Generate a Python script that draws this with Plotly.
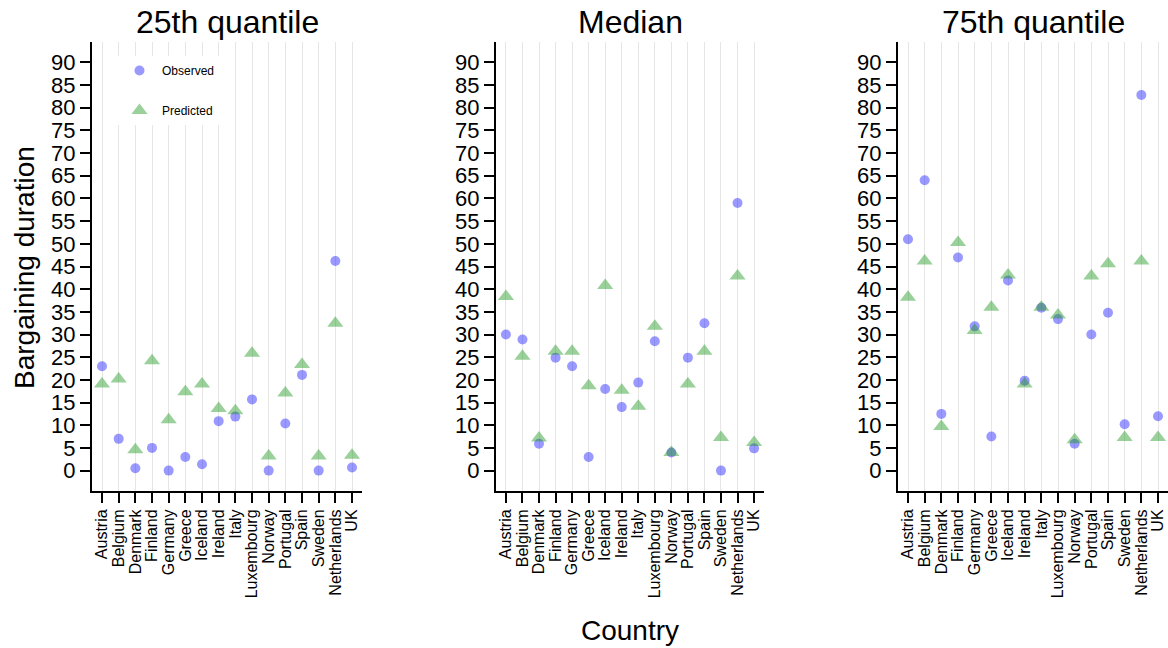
import plotly.graph_objects as go

countries = ["Austria", "Belgium", "Denmark", "Finland", "Germany", "Greece",
             "Iceland", "Ireland", "Italy", "Luxembourg", "Norway", "Portugal",
             "Spain", "Sweden", "Netherlands", "UK"]

panel_titles = ["25th quantile", "Median", "75th quantile"]

obs_q25 = [23.0, 7.0, 0.5, 5.0, 0.0, 3.0, 1.4, 10.9, 11.9, 15.7, 0.0, 10.4, 21.1, 0.0, 46.2, 0.7]
pred_q25 = [19.1, 20.2, 4.6, 24.2, 11.2, 17.4, 19.1, 13.7, 13.2, 25.9, 3.2, 17.1, 23.4, 3.2, 32.5, 3.4]

obs_q50 = [30.0, 28.9, 5.9, 24.9, 23.0, 3.0, 18.0, 14.0, 19.4, 28.5, 4.0, 24.9, 32.5, 0.0, 59.0, 4.9]
pred_q50 = [38.4, 25.2, 7.2, 26.3, 26.3, 18.7, 40.8, 17.7, 14.2, 31.8, 4.0, 19.1, 26.3, 7.3, 42.9, 6.2]

obs_q75 = [51.0, 64.0, 12.5, 47.0, 31.8, 7.5, 41.9, 19.8, 35.9, 33.4, 5.9, 30.0, 34.8, 10.2, 82.8, 12.0]
pred_q75 = [38.2, 46.2, 9.7, 50.3, 30.9, 36.0, 43.1, 19.1, 36.0, 34.3, 6.8, 42.9, 45.6, 7.3, 46.2, 7.3]

y_ticks = list(range(0, 95, 5))

observed = [obs_q25, obs_q50, obs_q75]
predicted = [pred_q25, pred_q50, pred_q75]

W, H = 1168, 648
# panel extents in pixels (left, right), shared top/bottom
panels_px = [(92, 362), (496, 764), (898, 1168)]
top_px, bottom_px = 42, 491

BLUE = "rgba(0,0,255,0.4)"
GREEN = "rgba(30,150,30,0.45)"
FONT = "Liberation Sans, Arial, sans-serif"

fig = go.Figure()
layout = dict(
    width=W, height=H,
    margin=dict(l=0, r=0, t=0, b=0),
    paper_bgcolor="white", plot_bgcolor="white",
    font=dict(family=FONT, color="black"),
    showlegend=True,
)

for i in range(3):
    xa = "x" if i == 0 else f"x{i+1}"
    ya = "y" if i == 0 else f"y{i+1}"
    fig.add_trace(go.Scatter(
        x=countries, y=observed[i], mode="markers", name="Observed",
        xaxis=xa, yaxis=ya, legendgroup="obs", showlegend=(i == 0),
        marker=dict(symbol="circle", size=10, color=BLUE, line=dict(width=0)),
    ))
    fig.add_trace(go.Scatter(
        x=countries, y=predicted[i], mode="markers", name="Predicted",
        xaxis=xa, yaxis=ya, legendgroup="pred", showlegend=(i == 0),
        marker=dict(symbol="triangle-up", size=14, color=GREEN, line=dict(width=0)),
    ))

    l, r = panels_px[i]
    xkey = "xaxis" if i == 0 else f"xaxis{i+1}"
    ykey = "yaxis" if i == 0 else f"yaxis{i+1}"
    layout[xkey] = dict(
        domain=[l / W, r / W], anchor=ya,
        type="category", categoryorder="array", categoryarray=countries,
        tickmode="array", tickvals=countries, ticktext=countries,
        range=[-0.6, len(countries) - 0.4],
        showgrid=True, gridcolor="#e6e6e6", gridwidth=1,
        showline=True, linecolor="black", linewidth=2,
        ticks="outside", ticklen=10, tickwidth=2, tickcolor="black",
        tickangle=-90, tickfont=dict(size=16, family=FONT, color="black"),
        zeroline=False, automargin=False, fixedrange=True,
    )
    layout[ykey] = dict(
        domain=[1 - bottom_px / H, 1 - top_px / H], anchor=xa,
        range=[-4.5, 94.5], tickmode="array", tickvals=y_ticks,
        ticktext=[str(v) for v in y_ticks],
        showgrid=False, zeroline=False,
        showline=True, linecolor="black", linewidth=2,
        ticks="outside", ticklen=10, tickwidth=2, tickcolor="black",
        tickfont=dict(size=22, family=FONT, color="black"),
        automargin=False, fixedrange=True,
    )

annotations = []
for i, t in enumerate(panel_titles):
    l, r = panels_px[i]
    annotations.append(dict(
        text=t, x=(l + r) / 2 / W, y=1 - 42 / H, xref="paper", yref="paper",
        xanchor="center", yanchor="bottom", showarrow=False,
        font=dict(size=32, family=FONT, color="black"),
    ))
annotations.append(dict(
    text="Bargaining duration", x=24 / W, y=1 - 268 / H, xref="paper", yref="paper",
    xanchor="center", yanchor="middle", textangle=-90, showarrow=False,
    font=dict(size=28, family=FONT, color="black"),
))
annotations.append(dict(
    text="Country", x=630 / W, y=1 - 630 / H, xref="paper", yref="paper",
    xanchor="center", yanchor="middle", showarrow=False,
    font=dict(size=28, family=FONT, color="black"),
))
layout["annotations"] = annotations

# white backdrop behind the legend, covering the grid lines there
layout["shapes"] = [dict(
    type="rect", xref="paper", yref="paper", layer="between",
    x0=107 / W, x1=231 / W, y0=1 - 144 / H, y1=1 - 43 / H,
    fillcolor="white", line=dict(width=0),
)]

layout["legend"] = dict(
    x=117 / W, y=1 - 56 / H, xanchor="left", yanchor="top",
    bgcolor="white", borderwidth=0,
    font=dict(size=12, family=FONT, color="black"),
    tracegroupgap=21, itemsizing="trace", itemwidth=35,
)

fig.update_layout(**layout)
fig.write_html("out.html")
